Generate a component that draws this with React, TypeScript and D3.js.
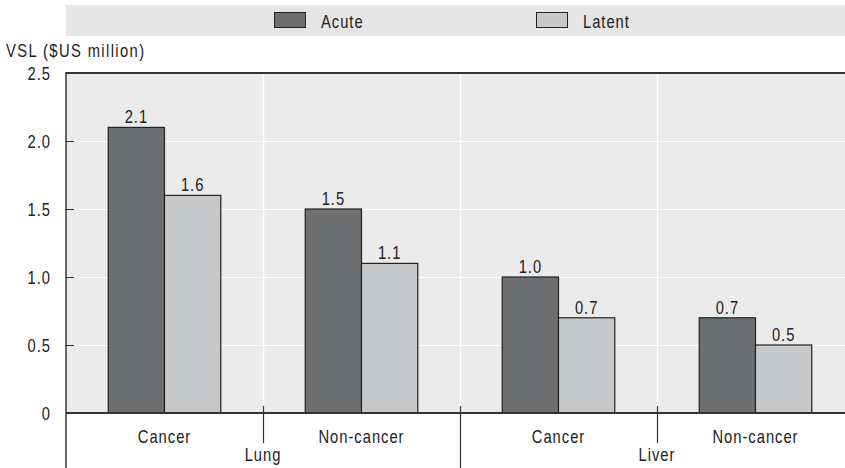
import React from "react";
import * as d3 from "d3";

const groups = ["Lung", "Liver"];
const subCategories = ["Cancer", "Non-cancer"];
const series = ["Acute", "Latent"];
const acuteValues = [2.1, 1.5, 1.0, 0.7];
const latentValues = [1.6, 1.1, 0.7, 0.5];
const yTicks = [0, 0.5, 1.0, 1.5, 2.0, 2.5];
const yTickLabels = ["0", "0.5", "1.0", "1.5", "2.0", "2.5"];
const yTitle = "VSL ($US million)";

const W = 845;
const H = 468;
const left = 66;
const right = 854;
const top = 73;
const bottom = 413;
const FONT = "'Liberation Sans', Arial, sans-serif";
const colors = ["#6d6e70", "#c7c8ca"];

type TProps = { x: number; y: number; anchor?: "start" | "middle" | "end"; spacing?: number; children: React.ReactNode };
function T({ x, y, anchor = "start", spacing = 1.2, children }: TProps) {
  return (
    <text
      transform={`translate(${x},${y}) scale(0.82,1)`}
      textAnchor={anchor}
      fontFamily={FONT}
      fontSize={18}
      letterSpacing={spacing}
      fill="#222"
    >
      {children}
    </text>
  );
}

export default function App() {
  const cats = groups.flatMap((g) => subCategories.map((s) => `${g}|${s}`));
  const x0 = d3.scaleBand<string>().domain(cats).range([left, right]).paddingInner(0).paddingOuter(0);
  const x1 = d3.scaleBand<string>().domain(series).range([0, x0.bandwidth()]).paddingInner(0).paddingOuter(0.75);
  const y = d3.scaleLinear().domain([0, 2.5]).range([bottom, top]);
  const valuesBySeries = [acuteValues, latentValues];
  const fmt = d3.format(".1f");

  const boundaries = cats.slice(1).map((c) => x0(c)!);
  const groupCenters = groups.map((g) => x0(`${g}|${subCategories[1]}`)!);

  return (
    <svg width={W} height={H} style={{ position: "absolute", left: 0, top: 0, background: "#fff" }}>
      {/* legend */}
      <rect x={left} y={5} width={W - left} height={31} fill="#e6e6e6" />
      {series.map((s, i) => {
        const lx = [274, 536][i];
        return (
          <g key={s}>
            <rect x={lx + 0.5} y={12.5} width={31} height={15} fill={colors[i]} stroke="#222" strokeWidth={1} />
            <T x={lx + 47} y={28}>{s}</T>
          </g>
        );
      })}
      <T x={6} y={57} spacing={1.7}>{yTitle}</T>

      {/* plot background */}
      <rect x={left} y={top} width={right - left} height={bottom - top} fill="#ebebeb" />
      {yTicks.slice(1, -1).map((t) => (
        <line key={t} x1={left} x2={right} y1={Math.round(y(t)) + 0.5} y2={Math.round(y(t)) + 0.5} stroke="#fff" strokeWidth={1} />
      ))}
      {boundaries.map((b, i) => (
        <line key={i} x1={b + 0.5} x2={b + 0.5} y1={top} y2={bottom} stroke="#fff" strokeWidth={1.5} />
      ))}

      {/* bars */}
      {cats.map((c, ci) =>
        series.map((s, si) => {
          const v = valuesBySeries[si][ci];
          const bx = x0(c)! + x1(s)!;
          return (
            <g key={c + s}>
              <rect x={bx} y={y(v)} width={x1.bandwidth()} height={bottom - y(v)} fill={colors[si]} stroke="#222" strokeWidth={1.2} />
              <T x={bx + x1.bandwidth() / 2} y={y(v) - 4} anchor="middle">{fmt(v)}</T>
            </g>
          );
        })
      )}

      {/* y ticks */}
      {yTicks.map((t, i) => (
        <g key={t}>
          {i > 0 && i < yTicks.length - 1 && (
            <line x1={left} x2={left + 8} y1={Math.round(y(t)) + 0.5} y2={Math.round(y(t)) + 0.5} stroke="#333" strokeWidth={1} />
          )}
          <T x={51} y={y(t) + 6.5} anchor="end">{yTickLabels[i]}</T>
        </g>
      ))}

      {/* frame */}
      <line x1={left} x2={right} y1={top} y2={top} stroke="#333" strokeWidth={2} />
      <line x1={left} x2={left} y1={top - 1} y2={H} stroke="#333" strokeWidth={1.5} />
      {boundaries.map((b, i) => (
        <line key={i} x1={b + 0.5} x2={b + 0.5} y1={406} y2={i === 1 ? H : 443} stroke="#333" strokeWidth={1.2} />
      ))}
      <line x1={left} x2={right} y1={bottom} y2={bottom} stroke="#333" strokeWidth={2} />

      {/* x labels */}
      {cats.map((c) => (
        <T key={c} x={x0(c)! + x0.bandwidth() / 2} y={443} anchor="middle">{c.split("|")[1]}</T>
      ))}
      {groups.map((g, i) => (
        <T key={g} x={groupCenters[i]} y={461} anchor="middle">{g}</T>
      ))}
    </svg>
  );
}
